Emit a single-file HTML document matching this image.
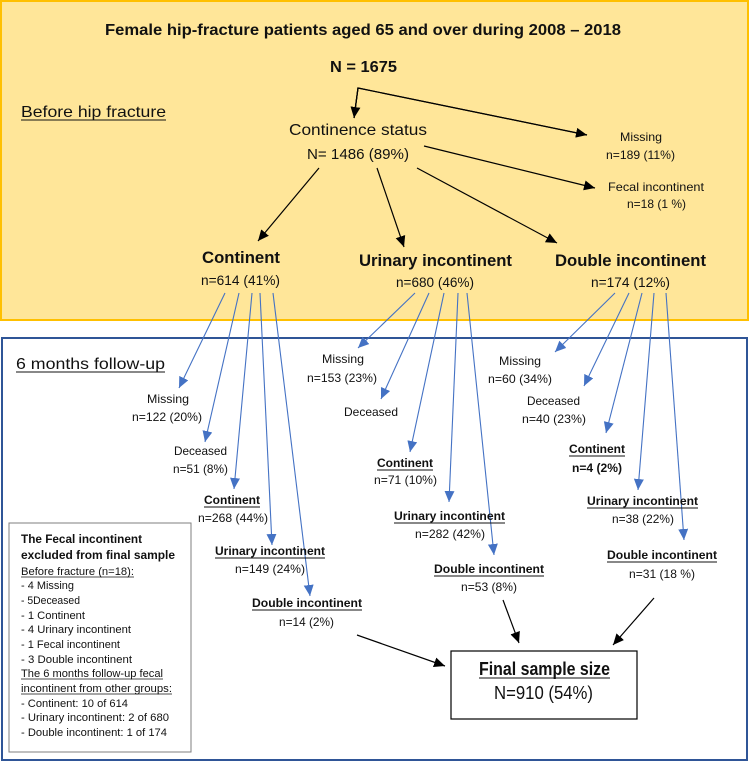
<!DOCTYPE html>
<html><head><meta charset="utf-8"><style>
html,body{margin:0;padding:0;background:#fff}
svg{display:block}
text{font-family:"Liberation Sans",sans-serif;fill:#111}
.b{font-weight:bold}
</style></head><body>
<svg width="749" height="762" viewBox="0 0 749 762" xmlns="http://www.w3.org/2000/svg">
<defs>
<marker id="ak" markerUnits="userSpaceOnUse" markerWidth="12" markerHeight="12" refX="11" refY="5" orient="auto"><path d="M0,0 L11,5 L0,10 z" fill="#000"/></marker>
<marker id="ab" markerUnits="userSpaceOnUse" markerWidth="12" markerHeight="12" refX="11" refY="5" orient="auto"><path d="M0,0 L11,5 L0,10 z" fill="#4472C4"/></marker>
</defs>
<rect x="1" y="1" width="747" height="319" fill="#FFE699" stroke="#FFC000" stroke-width="2"/>
<rect x="2" y="338" width="745" height="422" fill="#fff" stroke="#2F5597" stroke-width="2"/>

<g lengthAdjust="spacingAndGlyphs">
<text class="b" x="105" y="35" font-size="16" textLength="516" lengthAdjust="spacingAndGlyphs">Female hip-fracture patients aged 65 and over during 2008 – 2018</text>
<text class="b" x="330" y="72" font-size="16" textLength="67" lengthAdjust="spacingAndGlyphs">N = 1675</text>
<text x="21" y="117" font-size="16" textLength="145" lengthAdjust="spacingAndGlyphs">Before hip fracture</text>
<line x1="21" y1="120" x2="166" y2="120" stroke="#111" stroke-width="1"/>
<text x="289" y="135" font-size="16" textLength="138" lengthAdjust="spacingAndGlyphs">Continence status</text>
<text x="307" y="159" font-size="15" textLength="102" lengthAdjust="spacingAndGlyphs">N= 1486 (89%)</text>
<text x="620" y="141" font-size="12" textLength="42" lengthAdjust="spacingAndGlyphs">Missing</text>
<text x="606" y="159" font-size="12" textLength="69" lengthAdjust="spacingAndGlyphs">n=189 (11%)</text>
<text x="608" y="191" font-size="12" textLength="96" lengthAdjust="spacingAndGlyphs">Fecal incontinent</text>
<text x="627" y="208" font-size="12" textLength="59" lengthAdjust="spacingAndGlyphs">n=18 (1 %)</text>
<text class="b" x="202" y="263" font-size="17" textLength="78" lengthAdjust="spacingAndGlyphs">Continent</text>
<text x="201" y="285" font-size="14" textLength="79" lengthAdjust="spacingAndGlyphs">n=614 (41%)</text>
<text class="b" x="359" y="266" font-size="17" textLength="153" lengthAdjust="spacingAndGlyphs">Urinary incontinent</text>
<text x="396" y="287" font-size="14" textLength="78" lengthAdjust="spacingAndGlyphs">n=680 (46%)</text>
<text class="b" x="555" y="266" font-size="17" textLength="151" lengthAdjust="spacingAndGlyphs">Double incontinent</text>
<text x="591" y="287" font-size="14" textLength="79" lengthAdjust="spacingAndGlyphs">n=174 (12%)</text>
</g>

<g stroke="#000" stroke-width="1.2" fill="none" marker-end="url(#ak)">
<polyline points="354,118 358,88 587,135" marker-end="url(#ak)"/>
<line x1="424" y1="146" x2="595" y2="188"/>
<line x1="319" y1="168" x2="258" y2="241"/>
<line x1="377" y1="168" x2="404" y2="247"/>
<line x1="417" y1="168" x2="557" y2="243"/>
<line x1="357" y1="635" x2="445" y2="666"/>
<line x1="503" y1="600" x2="519" y2="643"/>
<line x1="654" y1="598" x2="613" y2="645"/>
</g>
<polyline points="354,118 358,88 587,135" stroke="#000" stroke-width="1.2" fill="none"/>
<line x1="358" y1="88" x2="354" y2="118" stroke="#000" stroke-width="1.2" marker-end="url(#ak)"/>

<text x="16" y="369" font-size="16" textLength="149" lengthAdjust="spacingAndGlyphs">6 months follow-up</text>
<line x1="16" y1="372" x2="165" y2="372" stroke="#111"/>

<g stroke="#4472C4" stroke-width="1.1" fill="none" marker-end="url(#ab)">
<line x1="225" y1="293" x2="179" y2="388"/>
<line x1="239" y1="293" x2="205" y2="442"/>
<line x1="252" y1="293" x2="234" y2="489"/>
<line x1="260" y1="293" x2="272" y2="545"/>
<line x1="273" y1="293" x2="310" y2="596"/>
<line x1="415" y1="293" x2="358" y2="348"/>
<line x1="429" y1="293" x2="381" y2="399"/>
<line x1="444" y1="293" x2="410" y2="452"/>
<line x1="458" y1="293" x2="449" y2="502"/>
<line x1="467" y1="293" x2="494" y2="555"/>
<line x1="615" y1="293" x2="555" y2="352"/>
<line x1="629" y1="293" x2="584" y2="386"/>
<line x1="642" y1="293" x2="606" y2="433"/>
<line x1="654" y1="293" x2="638" y2="490"/>
<line x1="666" y1="293" x2="684" y2="540"/>
</g>

<g font-size="12">
<text x="147" y="403" textLength="42" lengthAdjust="spacingAndGlyphs">Missing</text>
<text x="132" y="421" textLength="70" lengthAdjust="spacingAndGlyphs">n=122 (20%)</text>
<text x="174" y="455" textLength="53" lengthAdjust="spacingAndGlyphs">Deceased</text>
<text x="173" y="473" textLength="55" lengthAdjust="spacingAndGlyphs">n=51 (8%)</text>
<text class="b" x="204" y="504" textLength="56" lengthAdjust="spacingAndGlyphs">Continent</text>
<line x1="204" y1="507" x2="260" y2="507" stroke="#111"/>
<text x="198" y="522" textLength="70" lengthAdjust="spacingAndGlyphs">n=268 (44%)</text>
<text class="b" x="215" y="555" textLength="110" lengthAdjust="spacingAndGlyphs">Urinary incontinent</text>
<line x1="215" y1="558" x2="325" y2="558" stroke="#111"/>
<text x="235" y="573" textLength="70" lengthAdjust="spacingAndGlyphs">n=149 (24%)</text>
<text class="b" x="252" y="607" textLength="110" lengthAdjust="spacingAndGlyphs">Double incontinent</text>
<line x1="252" y1="610" x2="362" y2="610" stroke="#111"/>
<text x="279" y="626" textLength="55" lengthAdjust="spacingAndGlyphs">n=14 (2%)</text>

<text x="322" y="363" textLength="42" lengthAdjust="spacingAndGlyphs">Missing</text>
<text x="307" y="382" textLength="70" lengthAdjust="spacingAndGlyphs">n=153 (23%)</text>
<text x="344" y="416" textLength="54" lengthAdjust="spacingAndGlyphs">Deceased</text>
<text class="b" x="377" y="467" textLength="56" lengthAdjust="spacingAndGlyphs">Continent</text>
<line x1="377" y1="470" x2="433" y2="470" stroke="#111"/>
<text x="374" y="484" textLength="63" lengthAdjust="spacingAndGlyphs">n=71 (10%)</text>
<text class="b" x="394" y="520" textLength="111" lengthAdjust="spacingAndGlyphs">Urinary incontinent</text>
<line x1="394" y1="523" x2="505" y2="523" stroke="#111"/>
<text x="415" y="538" textLength="70" lengthAdjust="spacingAndGlyphs">n=282 (42%)</text>
<text class="b" x="434" y="573" textLength="110" lengthAdjust="spacingAndGlyphs">Double incontinent</text>
<line x1="434" y1="576" x2="544" y2="576" stroke="#111"/>
<text x="461" y="591" textLength="56" lengthAdjust="spacingAndGlyphs">n=53 (8%)</text>

<text x="499" y="365" textLength="42" lengthAdjust="spacingAndGlyphs">Missing</text>
<text x="488" y="383" textLength="64" lengthAdjust="spacingAndGlyphs">n=60 (34%)</text>
<text x="527" y="405" textLength="53" lengthAdjust="spacingAndGlyphs">Deceased</text>
<text x="522" y="423" textLength="64" lengthAdjust="spacingAndGlyphs">n=40 (23%)</text>
<text class="b" x="569" y="453" textLength="56" lengthAdjust="spacingAndGlyphs">Continent</text>
<line x1="569" y1="456" x2="625" y2="456" stroke="#111"/>
<text class="b" x="572" y="472" textLength="50" lengthAdjust="spacingAndGlyphs">n=4 (2%)</text>
<text class="b" x="587" y="505" textLength="111" lengthAdjust="spacingAndGlyphs">Urinary incontinent</text>
<line x1="587" y1="508" x2="698" y2="508" stroke="#111"/>
<text x="612" y="523" textLength="62" lengthAdjust="spacingAndGlyphs">n=38 (22%)</text>
<text class="b" x="607" y="559" textLength="110" lengthAdjust="spacingAndGlyphs">Double incontinent</text>
<line x1="607" y1="562" x2="717" y2="562" stroke="#111"/>
<text x="629" y="578" textLength="66" lengthAdjust="spacingAndGlyphs">n=31 (18 %)</text>
</g>

<rect x="451" y="651" width="186" height="68" fill="#fff" stroke="#000" stroke-width="1.2"/>
<text class="b" x="479" y="675" font-size="18" textLength="131" lengthAdjust="spacingAndGlyphs">Final sample size</text>
<line x1="479" y1="678" x2="610" y2="678" stroke="#111"/>
<text x="494" y="699" font-size="18" textLength="99" lengthAdjust="spacingAndGlyphs">N=910 (54%)</text>

<rect x="9" y="523" width="182" height="229" fill="#fff" stroke="#7f7f7f" stroke-width="1"/>
<g font-size="11">
<text class="b" x="21" y="543" font-size="12" textLength="121" lengthAdjust="spacingAndGlyphs">The Fecal incontinent</text>
<text class="b" x="21" y="559" font-size="12" textLength="154" lengthAdjust="spacingAndGlyphs">excluded from final sample</text>
<text x="21" y="575" textLength="113" lengthAdjust="spacingAndGlyphs">Before fracture (n=18):</text>
<line x1="21" y1="577" x2="134" y2="577" stroke="#111" stroke-width="0.8"/>
<text x="21" y="589" textLength="53" lengthAdjust="spacingAndGlyphs">- 4 Missing</text>
<text x="21" y="604" textLength="59" lengthAdjust="spacingAndGlyphs">- 5Deceased</text>
<text x="21" y="619" textLength="64" lengthAdjust="spacingAndGlyphs">- 1 Continent</text>
<text x="21" y="633" textLength="110" lengthAdjust="spacingAndGlyphs">- 4 Urinary incontinent</text>
<text x="21" y="648" textLength="99" lengthAdjust="spacingAndGlyphs">- 1 Fecal incontinent</text>
<text x="21" y="663" textLength="111" lengthAdjust="spacingAndGlyphs">- 3  Double incontinent</text>
<text x="21" y="677" textLength="142" lengthAdjust="spacingAndGlyphs">The 6 months follow-up fecal</text>
<line x1="21" y1="679" x2="163" y2="679" stroke="#111" stroke-width="0.8"/>
<text x="21" y="692" textLength="151" lengthAdjust="spacingAndGlyphs">incontinent from other groups:</text>
<line x1="21" y1="694" x2="172" y2="694" stroke="#111" stroke-width="0.8"/>
<text x="21" y="707" textLength="107" lengthAdjust="spacingAndGlyphs">- Continent: 10 of 614</text>
<text x="21" y="721" textLength="148" lengthAdjust="spacingAndGlyphs">- Urinary incontinent: 2 of 680</text>
<text x="21" y="736" textLength="146" lengthAdjust="spacingAndGlyphs">- Double incontinent: 1 of 174</text>
</g>
</svg>
</body></html>
